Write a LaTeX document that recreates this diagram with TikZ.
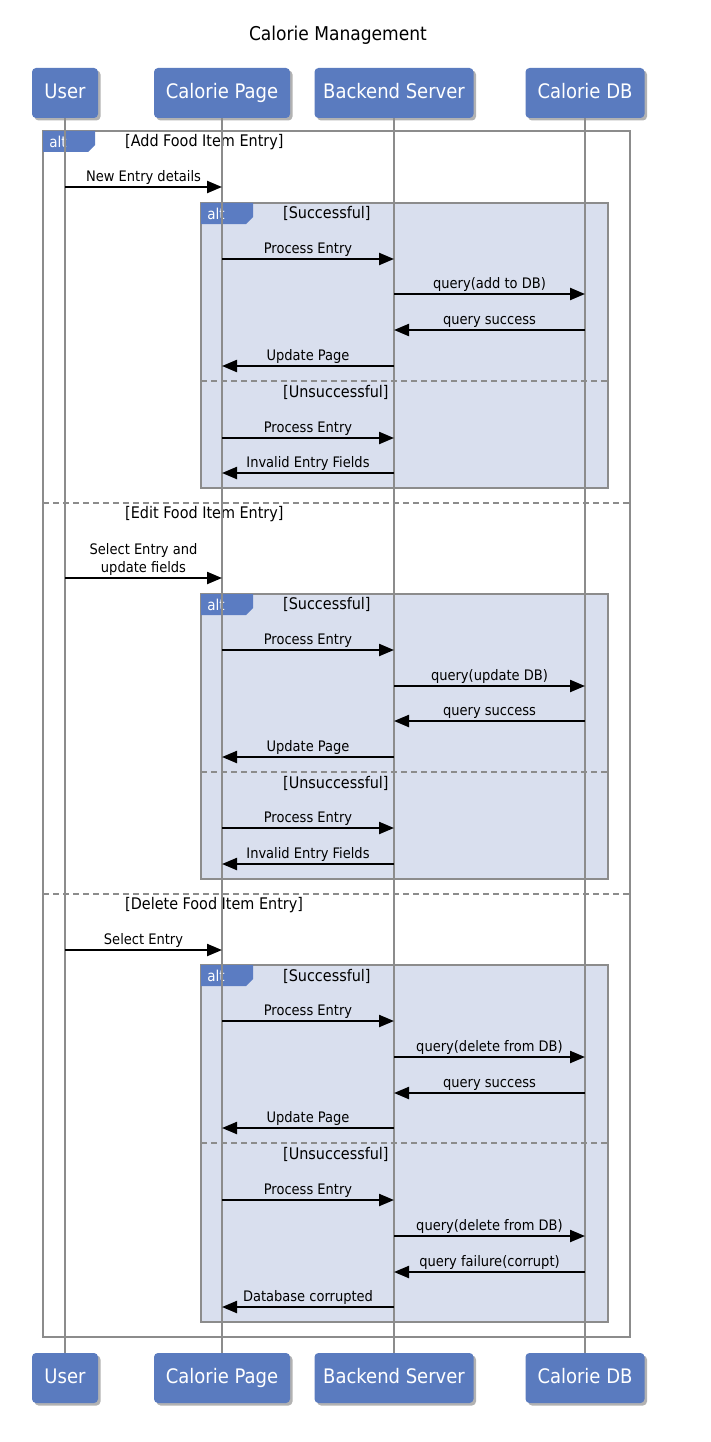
\documentclass[tikz,border=0pt]{standalone}
\usepackage{fontspec}
\setmainfont{DejaVu Sans Condensed}
\usetikzlibrary{arrows.meta,shadows}
\definecolor{partblue}{HTML}{5A7BBF}
\definecolor{tagblue}{HTML}{5B7CC2}
\definecolor{altfill}{HTML}{D9DFEE}
\definecolor{framegray}{HTML}{8C8C8C}
\tikzset{
  part/.style={fill=partblue, rounded corners=4pt, text=white,
    font=\fontsize{20}{23}\selectfont, minimum height=50pt, inner sep=0pt,
    text height=14.5pt, text depth=4pt,
    drop shadow={shadow xshift=2.5pt, shadow yshift=-2.5pt, opacity=0.3, fill=black}},
  lifeline/.style={draw=framegray, line width=2pt},
  frame/.style={draw=framegray, line width=2pt},
  innerframe/.style={draw=framegray, line width=2pt, fill=altfill},
  sep/.style={draw=framegray, line width=1.5pt, dash pattern=on 6pt off 4pt},
  msg/.style={draw=black, line width=2.2pt, -{Triangle[length=15pt,width=12pt]}},
  lblbase/.style={font=\fontsize{14.5}{18}\selectfont, inner sep=1.5pt, anchor=south, text=black},
  lbl/.style={lblbase, text height=10.5pt, text depth=3pt},
  guard/.style={font=\fontsize{16}{18}\selectfont, anchor=west, inner sep=0pt},
  tagtext/.style={font=\fontsize{15}{17}\selectfont, text=white, inner sep=0pt},
}
\newcommand\altTag[3]{% name, x, y
  \fill[tagblue] (#2,#3) -- ++(52,0) -- ++(0,14) -- ++(-7,7) -- ++(-45,0) -- cycle;
  \node[tagtext] (#1) at ({#2+15},{#3+10.5}) {alt};}
\newcommand\msgArrow[4]{% y, from x, to x, label
  \coordinate (s-#1) at (#2,#1);
  \coordinate (e-#1) at (#3,#1);
  \draw[msg] (s-#1) -- node[lbl]{#4} (e-#1);}
\begin{document}
\begin{tikzpicture}[x=1pt,y=-1pt]
\useasboundingbox (0,0) rectangle (710,1442);
\def\xU{65}\def\xP{222}\def\xB{394}\def\xD{585}
% title
\node[font=\fontsize{19}{22}\selectfont] (title) at (338,35) {Calorie Management};
% participants
\node[part, minimum width=66pt] (tU) at (\xU,93) {User};
\node[part, minimum width=136pt] (tP) at (\xP,93) {Calorie Page};
\node[part, minimum width=159pt] (tB) at (\xB,93) {Backend Server};
\node[part, minimum width=119pt] (tD) at (\xD,93) {Calorie DB};
\node[part, minimum width=66pt] (bU) at (\xU,1378) {User};
\node[part, minimum width=136pt] (bP) at (\xP,1378) {Calorie Page};
\node[part, minimum width=159pt] (bB) at (\xB,1378) {Backend Server};
\node[part, minimum width=119pt] (bD) at (\xD,1378) {Calorie DB};
% frames
\draw[frame] (43,131) rectangle (630,1337);
\draw[innerframe] (201,203) rectangle (608,488);
\draw[innerframe] (201,594) rectangle (608,879);
\draw[innerframe] (201,965) rectangle (608,1322);
\draw[sep] (43,503) -- (630,503);
\draw[sep] (43,894) -- (630,894);
\draw[sep] (201,381) -- (608,381);
\draw[sep] (201,772) -- (608,772);
\draw[sep] (201,1143) -- (608,1143);
\altTag{tag0}{43}{131}
\altTag{tag1}{201}{203}
\altTag{tag2}{201}{594}
\altTag{tag3}{201}{965}
% guards
\node[guard] (g1) at (125,142) {[Add Food Item Entry]};
\node[guard] (g2) at (125,514) {[Edit Food Item Entry]};
\node[guard] (g3) at (125,905) {[Delete Food Item Entry]};
\node[guard] (g1s) at (283,213) {[Successful]};
\node[guard] (g1u) at (283,392) {[Unsuccessful]};
\node[guard] (g2s) at (283,604) {[Successful]};
\node[guard] (g2u) at (283,783) {[Unsuccessful]};
\node[guard] (g3s) at (283,976) {[Successful]};
\node[guard] (g3u) at (283,1154) {[Unsuccessful]};
% lifelines
\draw[lifeline] (tU.south) -- (bU.north);
\draw[lifeline] (tP.south) -- (bP.north);
\draw[lifeline] (tB.south) -- (bB.north);
\draw[lifeline] (tD.south) -- (bD.north);
% section 1
\msgArrow{187}{\xU}{\xP}{New Entry details}
\msgArrow{259}{\xP}{\xB}{Process Entry}
\msgArrow{294}{\xB}{\xD}{query(add to DB)}
\msgArrow{330}{\xD}{\xB}{query success}
\msgArrow{366}{\xB}{\xP}{Update Page}
\msgArrow{438}{\xP}{\xB}{Process Entry}
\msgArrow{473}{\xB}{\xP}{Invalid Entry Fields}
% section 2
\coordinate (s-578) at (\xU,578);
\coordinate (e-578) at (\xP,578);
\draw[msg] (s-578) -- node[lblbase, align=center]{Select Entry and\\update fields} (e-578);
\msgArrow{650}{\xP}{\xB}{Process Entry}
\msgArrow{686}{\xB}{\xD}{query(update DB)}
\msgArrow{721}{\xD}{\xB}{query success}
\msgArrow{757}{\xB}{\xP}{Update Page}
\msgArrow{828}{\xP}{\xB}{Process Entry}
\msgArrow{864}{\xB}{\xP}{Invalid Entry Fields}
% section 3
\msgArrow{950}{\xU}{\xP}{Select Entry}
\msgArrow{1021}{\xP}{\xB}{Process Entry}
\msgArrow{1057}{\xB}{\xD}{query(delete from DB)}
\msgArrow{1093}{\xD}{\xB}{query success}
\msgArrow{1128}{\xB}{\xP}{Update Page}
\msgArrow{1200}{\xP}{\xB}{Process Entry}
\msgArrow{1236}{\xB}{\xD}{query(delete from DB)}
\msgArrow{1272}{\xD}{\xB}{query failure(corrupt)}
\msgArrow{1307}{\xB}{\xP}{Database corrupted}
\end{tikzpicture}
\end{document}
